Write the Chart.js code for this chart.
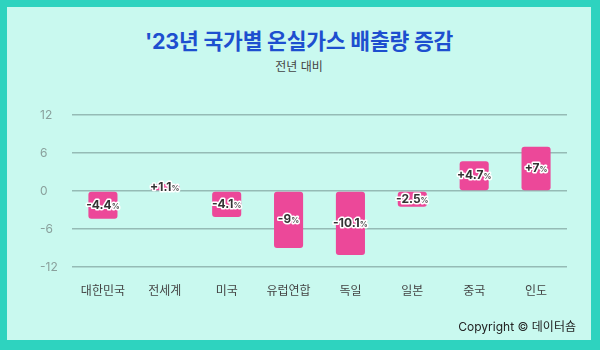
<!DOCTYPE html>
<html lang="ko">
<head>
<meta charset="utf-8">
<script src="https://cdn.jsdelivr.net/npm/chart.js@4.4.1/dist/chart.umd.min.js"></script>
<style>
    html, body { margin: 0; padding: 0; }
    body {
        width: 600px; height: 350px;
        background: #2ed3bf;
        font-family: "Inter", "Noto Sans CJK KR", sans-serif;
        position: relative;
        overflow: hidden;
    }
    .card {
        position: absolute; left: 7px; top: 7px;
        width: 584px; height: 333px;
        background: #c9f9ef;
    }
    .titulo {
        position: absolute; left: 0; right: 0; top: 17px;
        text-align: center; font-size: 21.5px; font-weight: 700;
        color: #1d4fcf; letter-spacing: -0.2px;
    }
    .subtitulo {
        position: absolute; left: 0; right: 0; top: 50px;
        text-align: center; font-size: 12px; color: #444;
    }
    .copy {
        position: absolute; right: 15px; top: 310px;
        font-size: 12px; color: #222;
    }
    canvas { position: absolute; left: 0; top: 0; }
</style>
</head>
<body>
<div class="card">
    <div class="titulo">'23년 국가별 온실가스 배출량 증감</div>
    <div class="subtitulo">전년 대비</div>
    <canvas id="grafico" width="584" height="333"></canvas>
    <div class="copy">Copyright © 데이터숌</div>
</div>
<script>
// ── datos ──
const paises  = ['대한민국', '전세계', '미국', '유럽연합', '독일', '일본', '중국', '인도'];
const cambios = [-4.4, 1.1, -4.1, -9, -10.1, -2.5, 4.7, 7];
const ticksY  = [-12, -6, 0, 6, 12];

// etiquetas encima de cada barra (texto con halo blanco)
const etiquetas = {
    id: 'etiquetas',
    afterDatasetsDraw(chart) {
        const ctx = chart.ctx;
        const meta = chart.getDatasetMeta(0);
        meta.data.forEach((bar, i) => {
            const v = cambios[i];
            const num = (v > 0 ? '+' : '') + v;
            const cx = bar.x;
            const cy = (bar.y + bar.base) / 2;
            ctx.save();
            ctx.textBaseline = 'middle';
            ctx.lineJoin = 'round';
            ctx.font = '700 12px Inter, "Noto Sans CJK KR", sans-serif';
            const w1 = ctx.measureText(num).width;
            ctx.font = '600 8px Inter, sans-serif';
            const w2 = ctx.measureText('%').width;
            const x0 = cx - (w1 + w2) / 2;
            ctx.strokeStyle = '#ffffff';
            ctx.lineWidth = 3;
            ctx.fillStyle = '#333333';
            ctx.font = '700 12px Inter, "Noto Sans CJK KR", sans-serif';
            ctx.textAlign = 'left';
            ctx.strokeText(num, x0, cy);
            ctx.fillText(num, x0, cy);
            ctx.font = '600 8px Inter, sans-serif';
            ctx.fillStyle = '#555555';
            ctx.strokeText('%', x0 + w1, cy + 1);
            ctx.fillText('%', x0 + w1, cy + 1);
            ctx.restore();
        });
    }
};

new Chart(document.getElementById('grafico'), {
    type: 'bar',
    data: {
        labels: paises,
        datasets: [{
            data: cambios,
            backgroundColor: '#ec4899',
            borderRadius: 3,
            borderSkipped: false,
            categoryPercentage: 1,
            barPercentage: 0.47,
        }]
    },
    options: {
        responsive: false,
        animation: false,
        layout: { padding: { top: 108, left: 33, right: 24, bottom: 0 } },
        plugins: {
            legend: { display: false },
            tooltip: { enabled: false }
        },
        scales: {
            x: {
                grid: { display: false, drawTicks: false },
                border: { display: false },
                ticks: {
                    color: '#444',
                    padding: 17,
                    font: { size: 12, family: 'Inter, "Noto Sans CJK KR", sans-serif' }
                },
                afterFit: (s) => { s.height = 73; }
            },
            y: {
                min: -12, max: 12,
                afterBuildTicks: (s) => { s.ticks = ticksY.map(v => ({ value: v })); },
                grid: { color: '#95bbb5', lineWidth: 1.5, drawTicks: false },
                border: { display: false },
                ticks: {
                    color: '#8aa09c',
                    crossAlign: 'far',
                    padding: 0,
                    font: { size: 12, family: 'Inter, sans-serif' }
                },
                afterFit: (s) => { s.width = 32; }
            }
        }
    },
    plugins: [etiquetas]
});
</script>
</body>
</html>
